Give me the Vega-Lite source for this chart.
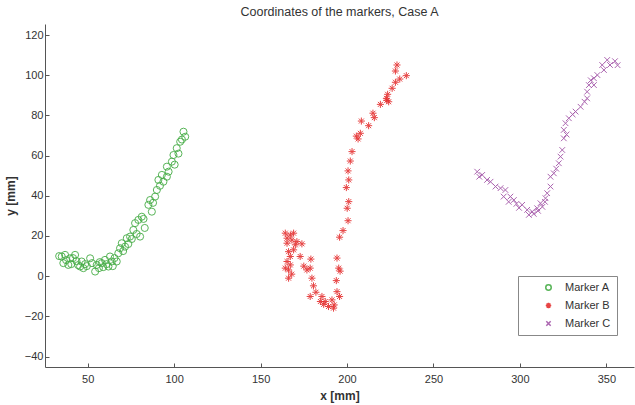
{
  "$schema": "https://vega.github.io/schema/vega-lite/v6.json",
  "autosize": {"type": "none"},
  "padding": {"left": 45, "top": 24, "right": 1, "bottom": 38},
  "width": 589,
  "height": 343,
  "background": "white",
  "title": {"text": "Coordinates of the markers, Case A", "fontSize": 12.5, "fontWeight": "normal", "color": "#333", "anchor": "middle", "offset": 6},
  "config": {
    "view": {"stroke": null},
    "font": "Liberation Sans",
    "axis": {"grid": false, "domainColor": "#555", "tickColor": "#555", "labelColor": "#333", "labelFontSize": 11, "titleFontSize": 12, "titleFontWeight": "bold", "titleColor": "#333", "tickSize": -4}
  },
  "datasets": {
    "pts": [
      {"marker":"Marker A","x":33.5,"y":10},{"marker":"Marker A","x":35,"y":9.8},{"marker":"Marker A","x":35.9,"y":6.5},{"marker":"Marker A","x":36.9,"y":10.6},{"marker":"Marker A","x":37.5,"y":8},{"marker":"Marker A","x":38.8,"y":5.6},{"marker":"Marker A","x":39.8,"y":8.9},{"marker":"Marker A","x":40.5,"y":6},{"marker":"Marker A","x":41.5,"y":9},{"marker":"Marker A","x":42.7,"y":10.6},{"marker":"Marker A","x":43.5,"y":7.5},{"marker":"Marker A","x":44.5,"y":5.5},{"marker":"Marker A","x":45.6,"y":4.8},{"marker":"Marker A","x":46.5,"y":7.3},{"marker":"Marker A","x":47.5,"y":4},{"marker":"Marker A","x":48.5,"y":6},{"marker":"Marker A","x":49.5,"y":5},{"marker":"Marker A","x":51.4,"y":8.9},{"marker":"Marker A","x":52.5,"y":6.5},{"marker":"Marker A","x":54.3,"y":2.3},{"marker":"Marker A","x":55.2,"y":5.6},{"marker":"Marker A","x":56.5,"y":4},{"marker":"Marker A","x":57,"y":7},{"marker":"Marker A","x":58.1,"y":6.5},{"marker":"Marker A","x":59,"y":4.5},{"marker":"Marker A","x":60,"y":8.1},{"marker":"Marker A","x":61,"y":6},{"marker":"Marker A","x":62,"y":4.8},{"marker":"Marker A","x":62.9,"y":9.8},{"marker":"Marker A","x":63.9,"y":7.3},{"marker":"Marker A","x":64.5,"y":5},{"marker":"Marker A","x":65.5,"y":9},{"marker":"Marker A","x":66.8,"y":7.3},{"marker":"Marker A","x":67.7,"y":11.4},{"marker":"Marker A","x":68.7,"y":13.9},{"marker":"Marker A","x":69.7,"y":16.4},{"marker":"Marker A","x":70.5,"y":12.5},{"marker":"Marker A","x":71.6,"y":14.7},{"marker":"Marker A","x":72.6,"y":18.9},{"marker":"Marker A","x":73.5,"y":16},{"marker":"Marker A","x":74.5,"y":19.7},{"marker":"Marker A","x":75.5,"y":18.5},{"marker":"Marker A","x":76.4,"y":23},{"marker":"Marker A","x":77.4,"y":26.4},{"marker":"Marker A","x":78.3,"y":21},{"marker":"Marker A","x":79.3,"y":28},{"marker":"Marker A","x":80.3,"y":19.7},{"marker":"Marker A","x":81.3,"y":29.6},{"marker":"Marker A","x":82.3,"y":28.5},{"marker":"Marker A","x":83,"y":24},{"marker":"Marker A","x":85.1,"y":35.5},{"marker":"Marker A","x":86.1,"y":37.9},{"marker":"Marker A","x":87.1,"y":32.1},{"marker":"Marker A","x":87.8,"y":36.5},{"marker":"Marker A","x":89,"y":39.6},{"marker":"Marker A","x":90,"y":42.9},{"marker":"Marker A","x":90.9,"y":47.9},{"marker":"Marker A","x":91.8,"y":45},{"marker":"Marker A","x":92.9,"y":50.4},{"marker":"Marker A","x":93.8,"y":47},{"marker":"Marker A","x":95.8,"y":49.5},{"marker":"Marker A","x":95.8,"y":54.5},{"marker":"Marker A","x":96.8,"y":52},{"marker":"Marker A","x":98.7,"y":57},{"marker":"Marker A","x":99.6,"y":60.3},{"marker":"Marker A","x":100.3,"y":55.5},{"marker":"Marker A","x":101.5,"y":63.7},{"marker":"Marker A","x":102.5,"y":61},{"marker":"Marker A","x":103.5,"y":66.9},{"marker":"Marker A","x":104.5,"y":68},{"marker":"Marker A","x":105.4,"y":71.9},{"marker":"Marker A","x":106.4,"y":69.4},
      {"marker":"Marker B","x":228.9,"y":105.1},{"marker":"Marker B","x":228.0,"y":102.1},{"marker":"Marker B","x":234.3,"y":99.8},{"marker":"Marker B","x":230.5,"y":98.1},{"marker":"Marker B","x":228.0,"y":96.5},{"marker":"Marker B","x":226.1,"y":93.5},{"marker":"Marker B","x":223.5,"y":90.5},{"marker":"Marker B","x":222.8,"y":88.5},{"marker":"Marker B","x":224.1,"y":86.8},{"marker":"Marker B","x":219.3,"y":85.5},{"marker":"Marker B","x":223,"y":87.5},{"marker":"Marker B","x":215.0,"y":81.1},{"marker":"Marker B","x":215.8,"y":78.9},{"marker":"Marker B","x":208.3,"y":77.2},{"marker":"Marker B","x":212.5,"y":74.9},{"marker":"Marker B","x":207.7,"y":71.1},{"marker":"Marker B","x":205.4,"y":69.7},{"marker":"Marker B","x":206.4,"y":68.3},{"marker":"Marker B","x":202.9,"y":62.0},{"marker":"Marker B","x":201.9,"y":57.3},{"marker":"Marker B","x":200.6,"y":52.4},{"marker":"Marker B","x":201.0,"y":47.9},{"marker":"Marker B","x":199.6,"y":44.1},{"marker":"Marker B","x":201.0,"y":37.1},{"marker":"Marker B","x":200.1,"y":33.8},{"marker":"Marker B","x":200.6,"y":27.6},{"marker":"Marker B","x":197.7,"y":22.7},{"marker":"Marker B","x":195.7,"y":19.4},{"marker":"Marker B","x":194.2,"y":9.0},{"marker":"Marker B","x":195.2,"y":4.0},{"marker":"Marker B","x":196,"y":2.5},{"marker":"Marker B","x":193.8,"y":-2.2},{"marker":"Marker B","x":194.2,"y":-7.7},{"marker":"Marker B","x":195.7,"y":-10.1},{"marker":"Marker B","x":192.6,"y":-14.3},{"marker":"Marker B","x":192.2,"y":-15.9},{"marker":"Marker B","x":189.3,"y":-15.1},{"marker":"Marker B","x":187.4,"y":-12.6},{"marker":"Marker B","x":185.5,"y":-10.1},{"marker":"Marker B","x":184.6,"y":-12.6},{"marker":"Marker B","x":186.5,"y":-14},{"marker":"Marker B","x":191.3,"y":-11.8},{"marker":"Marker B","x":178.7,"y":-10.1},{"marker":"Marker B","x":180.6,"y":-4.8},{"marker":"Marker B","x":179.7,"y":-1.0},{"marker":"Marker B","x":176.8,"y":3.1},{"marker":"Marker B","x":178.7,"y":4.0},{"marker":"Marker B","x":179.1,"y":8.5},{"marker":"Marker B","x":172.9,"y":9.8},{"marker":"Marker B","x":166.2,"y":-1.0},{"marker":"Marker B","x":166.2,"y":3.1},{"marker":"Marker B","x":165.3,"y":7.3},{"marker":"Marker B","x":167.2,"y":9.8},{"marker":"Marker B","x":166.2,"y":12.2},{"marker":"Marker B","x":169.1,"y":13.1},{"marker":"Marker B","x":170.1,"y":15.6},{"marker":"Marker B","x":173.9,"y":16.1},{"marker":"Marker B","x":164.3,"y":21.4},{"marker":"Marker B","x":165.3,"y":18.9},{"marker":"Marker B","x":167.2,"y":20.5},{"marker":"Marker B","x":168.1,"y":18.0},{"marker":"Marker B","x":171.0,"y":17.2},{"marker":"Marker B","x":169.1,"y":21.4},{"marker":"Marker B","x":165.3,"y":16.4},{"marker":"Marker B","x":164.3,"y":4.0},{"marker":"Marker B","x":167.2,"y":5.6},{"marker":"Marker B","x":175,"y":5},{"marker":"Marker B","x":182,"y":-8},{"marker":"Marker B","x":168,"y":1},
      {"marker":"Marker C","x":350.5,"y":107.6},{"marker":"Marker C","x":352.1,"y":105.1},{"marker":"Marker C","x":347.6,"y":105.1},{"marker":"Marker C","x":348.6,"y":102.6},{"marker":"Marker C","x":344.8,"y":100.1},{"marker":"Marker C","x":342.8,"y":98.5},{"marker":"Marker C","x":341,"y":97.5},{"marker":"Marker C","x":339.9,"y":95.1},{"marker":"Marker C","x":342.8,"y":95.1},{"marker":"Marker C","x":338.9,"y":91.8},{"marker":"Marker C","x":338.9,"y":88.5},{"marker":"Marker C","x":337.4,"y":86.8},{"marker":"Marker C","x":335.1,"y":84.3},{"marker":"Marker C","x":332.2,"y":81.9},{"marker":"Marker C","x":330.5,"y":80.5},{"marker":"Marker C","x":328.3,"y":78.6},{"marker":"Marker C","x":326.4,"y":76.1},{"marker":"Marker C","x":325.4,"y":72.8},{"marker":"Marker C","x":327,"y":70.5},{"marker":"Marker C","x":325.4,"y":68.6},{"marker":"Marker C","x":324.5,"y":62.8},{"marker":"Marker C","x":323.5,"y":59.5},{"marker":"Marker C","x":322.5,"y":56.2},{"marker":"Marker C","x":321,"y":53.5},{"marker":"Marker C","x":319.6,"y":51.2},{"marker":"Marker C","x":317.7,"y":49.5},{"marker":"Marker C","x":317.7,"y":44.6},{"marker":"Marker C","x":315.8,"y":41.3},{"marker":"Marker C","x":314.8,"y":38.8},{"marker":"Marker C","x":311.9,"y":36.3},{"marker":"Marker C","x":310.0,"y":33.8},{"marker":"Marker C","x":307.1,"y":32.1},{"marker":"Marker C","x":304.2,"y":33.0},{"marker":"Marker C","x":301.3,"y":35.5},{"marker":"Marker C","x":299.5,"y":34},{"marker":"Marker C","x":296.5,"y":37.9},{"marker":"Marker C","x":294.5,"y":39.6},{"marker":"Marker C","x":291.6,"y":42.9},{"marker":"Marker C","x":288.8,"y":43.8},{"marker":"Marker C","x":285.9,"y":44.6},{"marker":"Marker C","x":283.0,"y":47.0},{"marker":"Marker C","x":281.0,"y":47.9},{"marker":"Marker C","x":278.2,"y":50.4},{"marker":"Marker C","x":275.3,"y":52.0},{"marker":"Marker C","x":276.5,"y":49.5},{"marker":"Marker C","x":290.6,"y":39.6},{"marker":"Marker C","x":293.5,"y":37},{"marker":"Marker C","x":298,"y":36},{"marker":"Marker C","x":305.2,"y":30.5},{"marker":"Marker C","x":308,"y":31},{"marker":"Marker C","x":310.5,"y":32.5},{"marker":"Marker C","x":313,"y":34.5},{"marker":"Marker C","x":314.5,"y":37},{"marker":"Marker C","x":355,"y":107},{"marker":"Marker C","x":356.5,"y":105}
    ]
  },
  "data": {"name": "pts"},
  "mark": {"type": "point", "filled": false, "strokeWidth": 1, "opacity": 0.9},
  "encoding": {
    "x": {"field": "x", "type": "quantitative", "title": "x [mm]", "scale": {"domain": [25.3, 366], "nice": false, "zero": false}, "axis": {"values": [50, 100, 150, 200, 250, 300, 350], "labelPadding": 10, "titlePadding": 6}},
    "y": {"field": "y", "type": "quantitative", "title": "y [mm]", "scale": {"domain": [-45.2, 125.5], "nice": false, "zero": false}, "axis": {"values": [-40, -20, 0, 20, 40, 60, 80, 100, 120], "labelPadding": 6, "titlePadding": 7}},
    "color": {"field": "marker", "type": "nominal", "scale": {"domain": ["Marker A", "Marker B", "Marker C"], "range": ["#46ad46", "#e53030", "#a355a8"]}, "legend": {"title": null, "orient": "none", "legendX": 473, "legendY": 252, "strokeColor": "#888", "fillColor": "white", "padding": 6, "labelFontSize": 11, "labelColor": "#333", "rowPadding": 5, "symbolOffset": 19, "labelOffset": 11, "symbolSize": 30}},
    "shape": {"field": "marker", "type": "nominal", "scale": {"domain": ["Marker A", "Marker B", "Marker C"], "range": ["circle", "M0,-1L0,1M-1,0L1,0M-0.7,-0.7L0.7,0.7M-0.7,0.7L0.7,-0.7", "M-0.8,-0.8L0.8,0.8M-0.8,0.8L0.8,-0.8"]}, "legend": {"title": null}},
    "size": {"value": 50}
  }
}
